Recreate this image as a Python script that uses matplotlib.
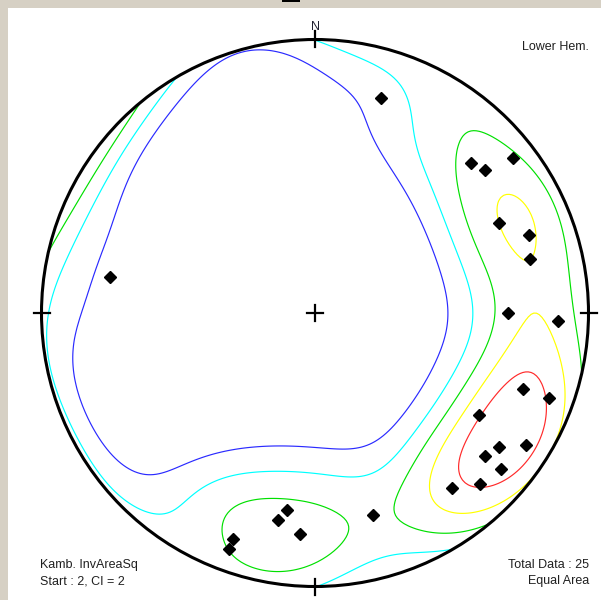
import numpy as np
import matplotlib.pyplot as plt
from matplotlib.patches import Circle, Rectangle

# lineations: trend / plunge in degrees
trend = np.array([17, 280, 46, 50, 52, 64, 70, 76, 90, 92, 110, 110, 122,
                  122, 126, 130, 130, 136, 142, 188, 190, 184, 200, 200, 164])
plunge = np.array([19, 25, 22, 20, 9, 26, 18, 20, 30, 12, 20, 10, 30,
                   10, 18, 20, 12, 14, 20, 28, 24, 20, 13, 9, 24])

start_level = 2
contour_interval = 2
contour_colors = ['#2a2aff', '#00ffff', '#00e000', '#ffff00', '#ff2a2a']
levels = start_level + contour_interval * np.arange(len(contour_colors))

plt.rcParams['font.family'] = ['Liberation Sans', 'DejaVu Sans']

# pixel geometry of the net
W, H = 601, 600
CX, CY, R = 315, 313, 273.5


def lower_hemisphere_xy(trend, plunge):
    """Equal-area (Schmidt) projection, lower hemisphere, unit primitive."""
    t, p = np.radians(trend), np.radians(plunge)
    r = np.sqrt(2) * np.sin((np.pi / 2 - p) / 2)
    return r * np.sin(t), r * np.cos(t)


def direction_cosines(trend, plunge):
    t, p = np.radians(trend), np.radians(plunge)
    return np.stack([np.cos(p) * np.sin(t), np.cos(p) * np.cos(t), np.sin(p)], axis=-1)


def point_density(xx, yy, vecs, width=26.0, power=3.0, scale=1.38):
    # back-project grid nodes onto the sphere and weight each datum by its
    # axial angular distance from the node
    r = np.hypot(xx, yy)
    colat = 2 * np.arcsin(np.clip(r / np.sqrt(2), 0, 1))
    az = np.arctan2(xx, yy)
    nodes = np.stack([np.sin(colat) * np.sin(az), np.sin(colat) * np.cos(az),
                      np.cos(colat)], axis=-1)
    ang = np.degrees(np.arccos(np.clip(np.abs(nodes @ vecs.T), 0, 1)))
    return scale * np.exp(-(ang / width) ** power).sum(axis=-1)


fig = plt.figure(figsize=(W / 100, H / 100), dpi=100)
fig.patch.set_facecolor('#d6d0c4')
fig.add_artist(Rectangle((8 / W, 0), (W - 8) / W, (H - 8) / H, zorder=-10,
                         transform=fig.transFigure, facecolor='white', edgecolor='none'))
fig.add_artist(Rectangle((282 / W, 1 - 2 / H), 18 / W, 2 / H,
                         transform=fig.transFigure, facecolor='black', edgecolor='none'))

ax = fig.add_axes([0, 0, 1, 1])
ax.set_xlim(-CX / R, (W - CX) / R)
ax.set_ylim(-(H - CY) / R, CY / R)
ax.axis('off')
ax.patch.set_visible(False)

# density grid
g = np.linspace(-1.2, 1.2, 241)
xx, yy = np.meshgrid(g, g)
dens = point_density(xx, yy, direction_cosines(trend, plunge))

prim_clip = Circle((0, 0), 1.0, transform=ax.transData)
cs = ax.contour(xx, yy, dens, levels=levels, colors=contour_colors, linewidths=0.85)
cs.set_clip_path(prim_clip)

# primitive, ticks and centre cross
ax.add_patch(Circle((0, 0), 1.0, facecolor='none', edgecolor='black', lw=2.2, zorder=3))
tk = 8 / R
for x0, y0 in [(0, 1), (0, -1)]:
    ax.plot([x0, x0], [y0 - tk, y0 + tk], color='black', lw=1.6, zorder=3)
for x0, y0 in [(-1, 0), (1, 0)]:
    ax.plot([x0 - tk, x0 + tk], [y0, y0], color='black', lw=1.6, zorder=3)
ax.plot([-tk, tk], [0, 0], color='black', lw=1.6, zorder=3)
ax.plot([0, 0], [-tk, tk], color='black', lw=1.6, zorder=3)
ax.text(0, 1 + 13 / R, 'N', ha='center', va='center', fontsize=9, color='#202030')

# data points
px, py = lower_hemisphere_xy(trend, plunge)
ax.plot(px, py, 'D', color='black', markersize=5.8, zorder=4)

txt = dict(fontsize=9, color='#202020', va='baseline')
fig.text(589 / W, 1 - 50 / H, 'Lower Hem.', ha='right', **txt)
fig.text(40 / W, 1 - 568 / H, 'Kamb. InvAreaSq', ha='left', **txt)
fig.text(40 / W, 1 - 584 / H, f'Start : {start_level}, CI = {contour_interval}', ha='left', **txt)
fig.text(589 / W, 1 - 568 / H, f'Total Data : {len(trend)}', ha='right', **txt)
fig.text(589 / W, 1 - 584 / H, 'Equal Area', ha='right', **txt)

fig.savefig('out.png', dpi=100)
